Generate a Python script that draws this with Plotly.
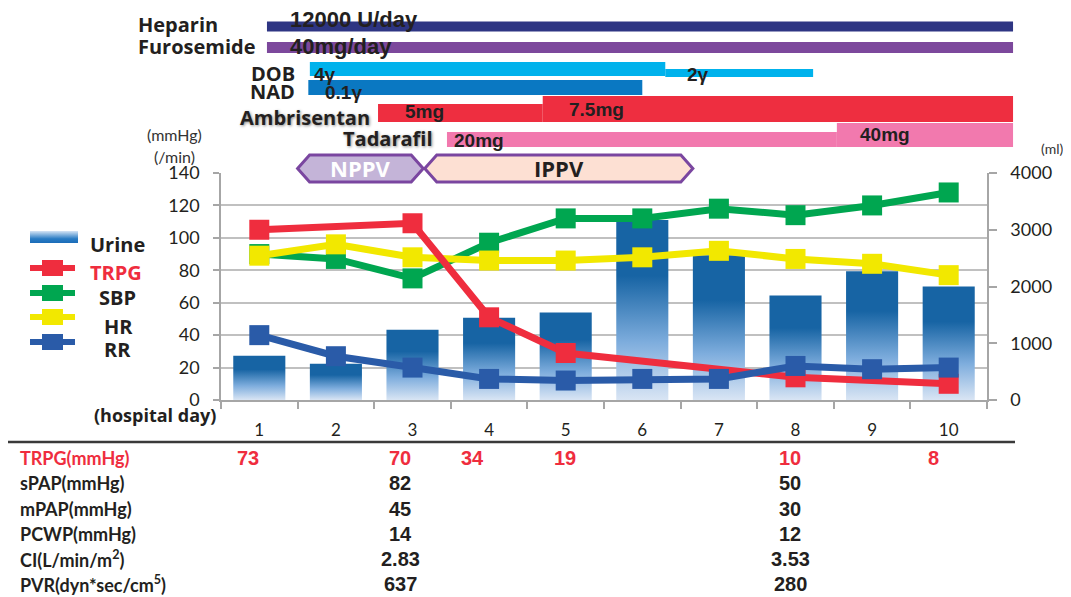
import plotly.graph_objects as go

W, H = 1071, 597

# ---------------- data ----------------
days = [1, 2, 3, 4, 5, 6, 7, 8, 9, 10]
day_labels = ["1", "2", "3", "4", "5", "6", "7", "8", "9", "10"]
urine_ml = [780, 640, 1240, 1450, 1540, 3170, 2550, 1840, 2270, 2000]
trpg = [105, None, 109, 51, 29, None, None, 14, None, 10]
sbp = [90, 87, 75, 97, 112, 112, 118, 114, 120, 128]
hr = [89, 96, 88, 86, 86, 88, 92, 87, 84, 77]
rr = [40, 27, 20, 13, 12, 13, 13, 21, 19, 20]

left_ticks = [0, 20, 40, 60, 80, 100, 120, 140]
right_ticks = [0, 1000, 2000, 3000, 4000]

# drug timeline: (start day, end day, dose label)
heparin = [(1.10, 10.84, "12000 U/day")]
furosemide = [(1.10, 10.84, "40mg/day")]
dob = [(1.66, 6.30, "4γ"), (6.30, 8.23, "2γ")]
nad = [(1.64, 6.00, "0.1γ")]
ambrisentan = [(2.55, 4.70, "5mg"), (4.70, 10.84, "7.5mg")]
tadarafil = [(3.45, 8.54, "20mg"), (8.54, 10.84, "40mg")]

# ventilation periods (start day, end day)
nppv = (1.50, 3.14)
ippv = (3.16, 6.66)

table_labels = ["TRPG(mmHg)", "sPAP(mmHg)", "mPAP(mmHg)", "PCWP(mmHg)",
                "CI(L/min/m<sup>2</sup>)", "PVR(dyn*sec/cm<sup>5</sup>)"]
table_trpg = {1: "73", 3: "70", 4: "34", 5: "19", 8: "10", 10: "8"}
table_spap = {3: "82", 8: "50"}
table_mpap = {3: "45", 8: "30"}
table_pcwp = {3: "14", 8: "12"}
table_ci = {3: "2.83", 8: "3.53"}
table_pvr = {3: "637", 8: "280"}

# ---------------- geometry / style ----------------
OX, OY = 8, 8          # page offset of the figure
PL, PR, PT, PB = 221, 987, 173, 400
SPAN = (PR - PL) / 10.0


def px(x):
    return (x - OX) / W


def py(y):
    return 1 - (y - OY) / H


def dpx(d):
    return PL + (d - 0.5) * SPAN


AX = "#a6a6a6"
GRID = "#c0c0c0"
TXT = "#231f20"
RED = "#ef2d3e"
GREEN = "#00a650"
YELLOW = "#f2e800"
BLUE = "#2a5ba8"
BAR_W = 0.34

fig = go.Figure()

# urine bars (gradient)
bar_scale = [[0, "#d9e5f4"], [0.32, "#7eaddd"], [0.69, "#1764a4"], [1, "#1764a4"]]
for d, v in zip(days, urine_ml):
    fig.add_trace(go.Scatter(
        x=[d - BAR_W, d - BAR_W, d + BAR_W, d + BAR_W, d - BAR_W],
        y=[0, v, v, 0, 0], mode="lines", fill="toself",
        fillgradient=dict(type="vertical", colorscale=bar_scale),
        line=dict(width=0), hoverinfo="skip", showlegend=False,
        xaxis="x", yaxis="y"))

# vital lines
for vals, col in [(sbp, GREEN), (hr, YELLOW), (trpg, RED), (rr, BLUE)]:
    fig.add_trace(go.Scatter(
        x=days, y=vals, mode="lines+markers", connectgaps=True,
        line=dict(color=col, width=7),
        marker=dict(symbol="square", size=20, color=col, line=dict(width=0)),
        showlegend=False, xaxis="x", yaxis="y2"))

# legend urine swatch on a full-figure overlay axis (pixel coordinates)
fig.add_trace(go.Scatter(
    x=[30 - OX, 30 - OX, 78 - OX, 78 - OX, 30 - OX],
    y=[243 - OY, 231 - OY, 231 - OY, 243 - OY, 243 - OY], mode="lines",
    fill="toself", line=dict(width=0),
    fillgradient=dict(type="vertical",
                      colorscale=[[0, "#1a6cb8"], [0.35, "#2a7cc4"], [1, "#d5e4f5"]]),
    hoverinfo="skip", showlegend=False, xaxis="x3", yaxis="y3"))

shapes = []
annotations = []


def ann(text, x, y, size, color=TXT, family="Open Sans", weight="bold",
        xanchor="left", shadow=None):
    f = dict(family=family, size=size, color=color, weight=weight)
    if shadow:
        f["shadow"] = shadow
    annotations.append(dict(text=text, x=px(x), y=py(y), xref="paper", yref="paper",
                            xanchor=xanchor, yanchor="middle", showarrow=False,
                            font=f))


def rect(x0, x1, y0, y1, color):
    shapes.append(dict(type="rect", xref="paper", yref="paper",
                       x0=px(x0), x1=px(x1), y0=py(y1), y1=py(y0),
                       fillcolor=color, line=dict(width=0), layer="above"))


drugs = [
    (heparin, "#2e3583", [(21.5, 31.5)], "Heparin", 220, 25, [21], [20], 22, None),
    (furosemide, "#7c489c", [(42, 53)], "Furosemide", 258, 47, [21], [46], 22, None),
    (dob, "#00b2ec", [(62, 76), (69, 77)], "DOB", 297, 73, [2, 20], [75, 75], 19, None),
    (nad, "#0a78c2", [(80, 95)], "NAD", 297, 92, [15], [93], 19, None),
    (ambrisentan, "#ee2e40", [(104, 122), (96, 122)], "Ambrisentan", 372, 118,
     [25, 24], [111, 109], 19, "1px 1px 3px rgba(0,0,0,0.45)"),
    (tadarafil, "#f279ae", [(132, 147), (123, 147)], "Tadarafil", 435, 138,
     [5, 21], [140, 134], 19, "1px 1px 3px rgba(0,0,0,0.45)"),
]
for segs, col, ys, name, lx, ly, offs, dys, dsize, shad in drugs:
    for (s, e, dose), (y0, y1), off, dy in zip(segs, ys, offs, dys):
        rect(dpx(s), dpx(e), y0, y1, col)
        ann(dose, dpx(s) + off, dy, dsize, family="Liberation Sans, Arial")
    ann(name, lx, ly, 20, xanchor="right", shadow=shad)


def hexpath(d0, d1, y0=155, y1=182, tip=12):
    x0, x1 = dpx(d0), dpx(d1)
    ym = (y0 + y1) / 2
    pts = [(x0, ym), (x0 + tip, y0), (x1 - tip, y0), (x1, ym), (x1 - tip, y1), (x0 + tip, y1)]
    return "M " + " L ".join(f"{px(a):.5f},{py(b):.5f}" for a, b in pts) + " Z"


shapes.append(dict(type="path", xref="paper", yref="paper", path=hexpath(*nppv),
                   fillcolor="#c4b4d8", line=dict(color="#7a46a0", width=3), layer="above"))
shapes.append(dict(type="path", xref="paper", yref="paper", path=hexpath(*ippv),
                   fillcolor="#fde0d3", line=dict(color="#7a46a0", width=3), layer="above"))
ann("NPPV", (dpx(nppv[0]) + dpx(nppv[1])) / 2, 168, 22, color="white", xanchor="center")
ann("IPPV", (dpx(ippv[0]) + dpx(ippv[1])) / 2, 168, 22, color=TXT, xanchor="center")

# custom legend
ann("Urine", 88, 244, 20)
for name, col, ly, tx, ty in [("TRPG", RED, 268, 88, 272), ("SBP", GREEN, 293, 97, 297),
                              ("HR", YELLOW, 317, 102, 326), ("RR", BLUE, 342, 102, 349)]:
    shapes.append(dict(type="line", xref="paper", yref="paper", x0=px(30), x1=px(75),
                       y0=py(ly), y1=py(ly), line=dict(color=col, width=6), layer="above"))
    rect(42, 63, ly - 8, ly + 8, col)
    ann(name, tx, ty, 20, color=(RED if name == "TRPG" else TXT))

# unit labels
ann("(mmHg)", 174, 135, 16, weight="normal", family="Lato", xanchor="center", color="#333333")
ann("(/min)", 174, 157, 16, weight="normal", family="Lato", xanchor="center", color="#333333")
ann("(ml)", 1052, 148, 14, weight="normal", family="Lato", xanchor="center", color="#333333")
ann("(hospital day)", 218, 415, 18, xanchor="right")

# table
shapes.append(dict(type="line", xref="paper", yref="paper", x0=px(8), x1=px(1015),
                   y0=py(442), y1=py(442), line=dict(color="#3a3a3a", width=2.5)))
col_x = {1: 248, 3: 400, 4: 472, 5: 565, 8: 790, 10: 933}
row_y = [458, 483, 509, 534, 559, 584]
rows = [table_trpg, table_spap, table_mpap, table_pcwp, table_ci, table_pvr]
for i, (lab, vals, yy) in enumerate(zip(table_labels, rows, row_y)):
    c = RED if i == 0 else TXT
    ann(lab, 18, yy, 18, color=c, family="Lato")
    for d, v in vals.items():
        ann(v, col_x[d], yy, 20, color=c, family="Liberation Sans, Arial", xanchor="center")

fig.update_layout(
    width=W, height=H, autosize=False,
    margin=dict(l=0, r=0, t=0, b=0, pad=0, autoexpand=False),
    paper_bgcolor="white", plot_bgcolor="rgba(0,0,0,0)",
    showlegend=False,
    shapes=shapes, annotations=annotations,
    xaxis=dict(domain=[px(PL), px(PR)], range=[0.5, 10.5], anchor="y", automargin=False,
               tickmode="array", tickvals=days, ticktext=day_labels, ticks="",
               showgrid=False, zeroline=False, showline=True, linecolor=AX, linewidth=1.5,
               tickfont=dict(family="Lato", size=17, color=TXT), ticklabelstandoff=14,
               minor=dict(tickmode="array", tickvals=[0.5 + i for i in range(11)],
                          ticks="outside", ticklen=7, tickcolor=AX, tickwidth=1.5,
                          showgrid=False),
               fixedrange=True),
    yaxis=dict(domain=[py(PB), py(PT)], range=[0, 4000], side="right", anchor="x",
               automargin=False,
               tickmode="array", tickvals=right_ticks, ticks="outside", ticklen=8,
               tickcolor=AX, tickwidth=1.5, showline=True, linecolor=AX, linewidth=1.5,
               showgrid=False, zeroline=False, ticklabelstandoff=10,
               tickfont=dict(family="Lato", size=18, color=TXT), fixedrange=True),
    yaxis2=dict(overlaying="y", side="left", anchor="x", range=[0, 140], automargin=False,
                tickmode="array", tickvals=left_ticks, ticks="outside", ticklen=6,
                tickcolor=AX, tickwidth=1.5, showline=True, linecolor=AX, linewidth=1.5,
                showgrid=True, gridcolor=GRID, gridwidth=1.5, zeroline=False,
                ticklabelstandoff=10,
                tickfont=dict(family="Lato", size=18, color=TXT), fixedrange=True),
    xaxis3=dict(domain=[0, 1], range=[0, W], anchor="y3", visible=False, fixedrange=True,
                automargin=False),
    yaxis3=dict(domain=[0, 1], range=[H, 0], anchor="x3", visible=False, fixedrange=True,
                automargin=False),
)

fig.write_html("out.html")
